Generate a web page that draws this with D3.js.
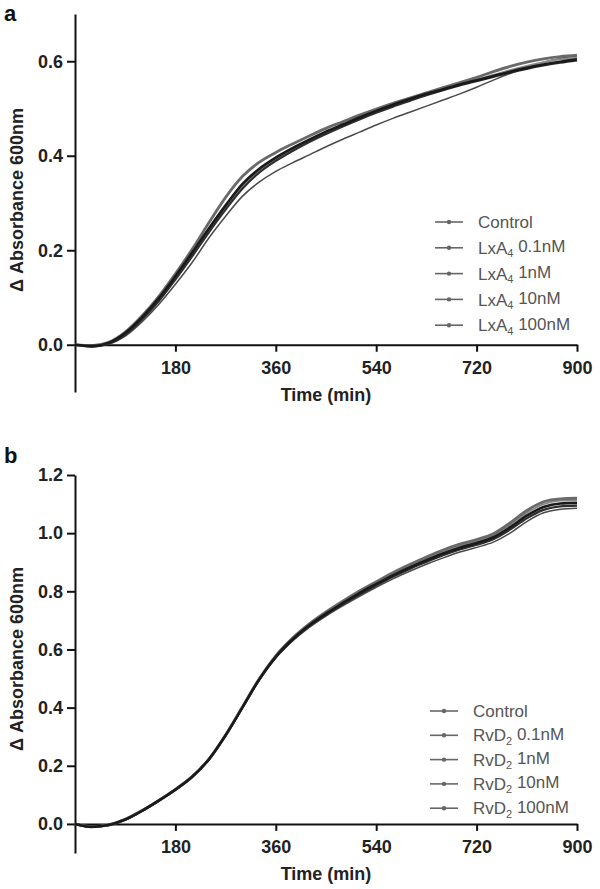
<!DOCTYPE html>
<html>
<head>
<meta charset="utf-8">
<script src="https://cdn.jsdelivr.net/npm/d3@7"></script>
<style>
  body { margin: 0; background: #fff; }
  svg { font-family: "Liberation Sans", Arial, sans-serif; }
</style>
</head>
<body>
<svg id="chart" width="600" height="889"></svg>
<script>
// time points (min), one every 30 min
var times = [0, 30, 60, 90, 120, 150, 180, 210, 240, 270, 300, 330, 360, 390, 420, 450,
             480, 510, 540, 570, 600, 630, 660, 690, 720, 750, 780, 810, 840, 870, 900];

var xTicks = [180, 360, 540, 720, 900];
var yTicksA = [0, 0.2, 0.4, 0.6];
var yTicksB = [0, 0.2, 0.4, 0.6, 0.8, 1.0, 1.2];

// panel a : lipoxin A4
var namesA = ["Control", "LxA4 0.1nM", "LxA4 1nM", "LxA4 10nM", "LxA4 100nM"];
var controlA = [0.000, -0.003, 0.004, 0.025, 0.058, 0.098, 0.145, 0.195, 0.246, 0.295, 0.340, 0.372, 0.396, 0.416, 0.434, 0.451,
                0.466, 0.481, 0.495, 0.508, 0.520, 0.531, 0.541, 0.551, 0.560, 0.569, 0.578, 0.586, 0.593, 0.599, 0.604];
var lxa01 = [0.000, -0.002, 0.005, 0.027, 0.061, 0.102, 0.150, 0.202, 0.258, 0.312, 0.356, 0.386, 0.407, 0.425, 0.442, 0.458,
             0.472, 0.486, 0.499, 0.511, 0.522, 0.533, 0.544, 0.555, 0.566, 0.578, 0.589, 0.598, 0.605, 0.610, 0.613];
var lxa1 = [0.000, -0.004, 0.002, 0.021, 0.053, 0.092, 0.138, 0.187, 0.238, 0.286, 0.330, 0.364, 0.389, 0.410, 0.429, 0.446,
            0.462, 0.477, 0.491, 0.504, 0.516, 0.528, 0.539, 0.549, 0.558, 0.567, 0.576, 0.584, 0.591, 0.597, 0.602];
var lxa10 = [0.000, -0.003, 0.003, 0.023, 0.056, 0.096, 0.143, 0.193, 0.244, 0.292, 0.336, 0.368, 0.393, 0.414, 0.432, 0.449,
             0.465, 0.480, 0.494, 0.507, 0.519, 0.530, 0.541, 0.551, 0.561, 0.571, 0.581, 0.590, 0.598, 0.604, 0.608];
var lxa100 = [0.000, -0.004, 0.001, 0.018, 0.048, 0.085, 0.128, 0.174, 0.226, 0.272, 0.314, 0.344, 0.367, 0.385, 0.402, 0.419,
              0.435, 0.450, 0.465, 0.479, 0.492, 0.505, 0.518, 0.531, 0.545, 0.560, 0.574, 0.587, 0.598, 0.606, 0.611];

// panel b : resolvin D2
var namesB = ["Control", "RvD2 0.1nM", "RvD2 1nM", "RvD2 10nM", "RvD2 100nM"];
var controlB = [0.000, -0.010, -0.004, 0.015, 0.045, 0.080, 0.118, 0.162, 0.222, 0.305, 0.400, 0.496, 0.575, 0.635, 0.683, 0.723,
                0.759, 0.794, 0.825, 0.855, 0.882, 0.907, 0.930, 0.950, 0.966, 0.986, 1.020, 1.060, 1.090, 1.102, 1.104];
var rvd01 = [0.000, -0.009, -0.003, 0.016, 0.046, 0.081, 0.119, 0.163, 0.223, 0.306, 0.402, 0.498, 0.578, 0.639, 0.688, 0.729,
             0.766, 0.801, 0.833, 0.864, 0.892, 0.918, 0.942, 0.962, 0.978, 0.998, 1.035, 1.078, 1.108, 1.118, 1.120];
var rvd1 = [0.000, -0.010, -0.005, 0.014, 0.044, 0.079, 0.117, 0.161, 0.221, 0.304, 0.399, 0.495, 0.573, 0.632, 0.680, 0.719,
            0.755, 0.789, 0.820, 0.850, 0.877, 0.901, 0.924, 0.944, 0.960, 0.979, 1.012, 1.051, 1.080, 1.092, 1.095];
var rvd10 = [0.000, -0.009, -0.004, 0.015, 0.045, 0.080, 0.118, 0.162, 0.222, 0.305, 0.401, 0.497, 0.577, 0.637, 0.686, 0.726,
             0.763, 0.798, 0.829, 0.860, 0.887, 0.913, 0.936, 0.956, 0.972, 0.992, 1.028, 1.070, 1.100, 1.112, 1.114];
var rvd100 = [0.000, -0.011, -0.005, 0.013, 0.043, 0.078, 0.116, 0.160, 0.220, 0.303, 0.398, 0.493, 0.571, 0.629, 0.676, 0.715,
              0.750, 0.783, 0.814, 0.843, 0.869, 0.893, 0.915, 0.935, 0.951, 0.969, 1.000, 1.040, 1.070, 1.082, 1.086];

var lineColors = ["#1a1a1a", "#6a6a6a", "#2e2e2e", "#8a8a8a", "#4a4a4a"];
var lineWidths = [2.6, 2.8, 2.2, 2.0, 1.5];

var svg = d3.select("#chart");

function drawPanel(cfg) {
  var x = d3.scaleLinear().domain([0, 900]).range([75, 577]);
  var y = d3.scaleLinear().domain(cfg.yDomain).range(cfg.yRange);

  var g = svg.append("g");

  var yAxis = d3.axisLeft(y)
      .tickValues(cfg.yTicks)
      .tickFormat(d3.format(".1f"))
      .tickSize(8)
      .tickPadding(4)
      .tickSizeOuter(0);

  var xAxis = d3.axisBottom(x)
      .tickValues(xTicks)
      .tickSize(7)
      .tickPadding(9)
      .tickSizeOuter(0);

  var ya = g.append("g")
      .attr("transform", "translate(75,0)")
      .call(yAxis);

  var xa = g.append("g")
      .attr("transform", "translate(0," + y(0) + ")")
      .call(xAxis);

  [ya, xa].forEach(function(a){
    a.select(".domain").attr("stroke", "#111").attr("stroke-width", 2);
    a.selectAll(".tick line").attr("stroke", "#111").attr("stroke-width", 2);
    a.selectAll(".tick text")
      .attr("fill", "#222")
      .style("font-size", "18px")
      .style("font-weight", "bold");
  });

  // y axis title
  g.append("text")
      .attr("transform", "translate(23," + cfg.titleY + ") rotate(-90)")
      .attr("text-anchor", "middle")
      .style("font-size", "18px")
      .style("font-weight", "bold")
      .attr("fill", "#222")
      .text("\u0394 Absorbance 600nm");

  // x axis title
  g.append("text")
      .attr("x", 326)
      .attr("y", y(0) + 56)
      .attr("text-anchor", "middle")
      .style("font-size", "18px")
      .style("font-weight", "bold")
      .attr("fill", "#222")
      .text("Time (min)");

  // panel letter
  g.append("text")
      .attr("x", 4)
      .attr("y", cfg.letterY)
      .style("font-size", "22px")
      .style("font-weight", "bold")
      .attr("fill", "#111")
      .text(cfg.letter);

  var line = d3.line()
      .x(function(d, i){ return x(times[i]); })
      .y(function(d){ return y(d); })
      .curve(d3.curveMonotoneX);

  // draw back to front so control sits on top
  for (var k = cfg.series.length - 1; k >= 0; k--) {
    g.append("path")
      .datum(cfg.series[k])
      .attr("fill", "none")
      .attr("stroke", lineColors[k])
      .attr("stroke-width", lineWidths[k])
      .attr("d", line);
  }

  // legend
  var leg = g.append("g");
  cfg.names.forEach(function(name, i){
    var ly = cfg.legY + i * cfg.legStep;
    leg.append("line")
      .attr("x1", cfg.legX).attr("x2", cfg.legX + 28)
      .attr("y1", ly).attr("y2", ly)
      .attr("stroke", "#666").attr("stroke-width", 1.6);
    leg.append("circle")
      .attr("cx", cfg.legX + 14).attr("cy", ly).attr("r", 2.2)
      .attr("fill", "#666");
    var t = leg.append("text")
      .attr("x", cfg.legX + 43)
      .attr("y", ly)
      .attr("dy", "0.36em")
      .style("font-size", "17px")
      .attr("fill", "#555");
    var parts = name.split(" ");
    if (parts[0] == "Control") {
      t.text("Control");
    } else {
      var base = parts[0].slice(0, -1), sub = parts[0].slice(-1);
      t.append("tspan").text(base);
      t.append("tspan").attr("dy", "0.3em").style("font-size", "11px").text(sub);
      t.append("tspan").attr("dy", "-0.3em").text(" " + parts[1]);
    }
  });
}

drawPanel({
  letter: "a", letterY: 21,
  yDomain: [-0.1, 0.70], yRange: [392, 14], yTicks: yTicksA,
  titleY: 200,
  series: [controlA, lxa01, lxa1, lxa10, lxa100], names: namesA,
  legX: 435, legY: 222, legStep: 25.8
});

drawPanel({
  letter: "b", letterY: 463,
  yDomain: [-0.1, 1.2], yRange: [853, 475], yTicks: yTicksB,
  titleY: 659,
  series: [controlB, rvd01, rvd1, rvd10, rvd100], names: namesB,
  legX: 430, legY: 711, legStep: 24.3
});
</script>
</body>
</html>
